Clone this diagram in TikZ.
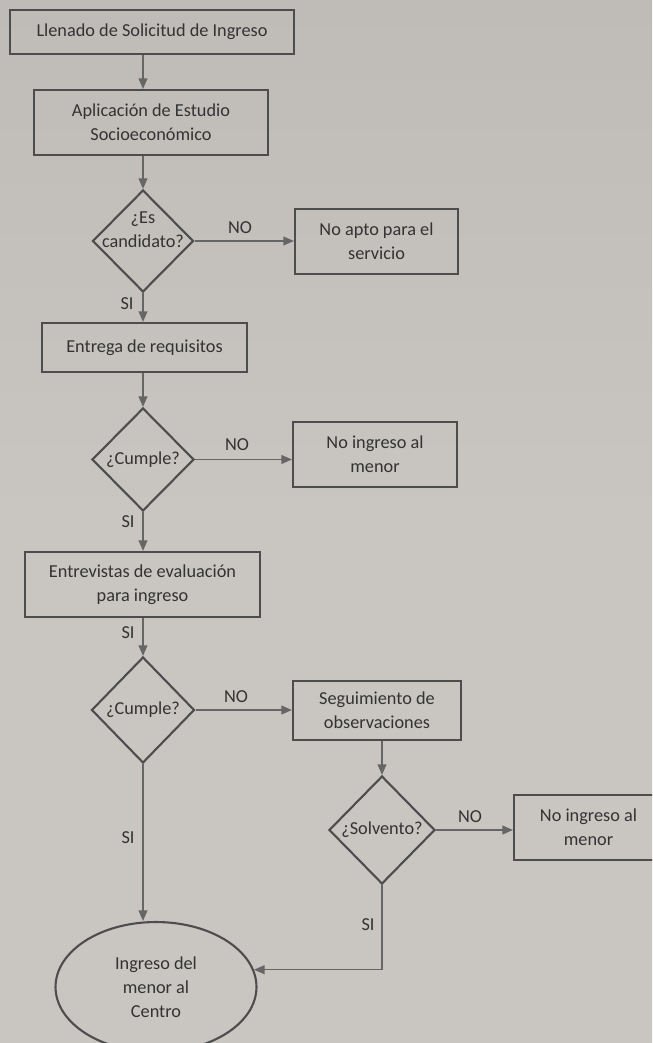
\documentclass[tikz,border=0pt]{standalone}
\usepackage{fontspec}
\setmainfont{Carlito}
\usetikzlibrary{shapes.geometric,arrows.meta,calc}
\definecolor{paper}{HTML}{C9C6C2}
\definecolor{paperdark}{HTML}{BFBCB8}
\definecolor{ink}{HTML}{333333}
\definecolor{edge}{HTML}{4D4D4D}
\definecolor{conn}{HTML}{666666}
\tikzset{
  txt/.style={font=\fontsize{10.4}{13.7}\selectfont, text=ink, align=center},
  box/.style={txt, draw=edge, line width=1.2pt, rectangle, inner sep=0pt},
  dec/.style={draw=edge, line width=1.2pt, diamond, inner sep=0pt},
  term/.style={txt, draw=edge, line width=1.2pt, ellipse, inner sep=0pt},
  conector/.style={draw=conn, line width=0.8pt, -{Triangle[length=6pt,width=5pt]}},
  lbl/.style={txt, inner sep=0pt}
}
\newcommand{\dtext}[1]{\makebox[0pt]{\begin{tabular}{@{}c@{}}#1\end{tabular}}}
\begin{document}
\begin{tikzpicture}[x=0.02cm,y=-0.02cm]
\shade[top color=paperdark, bottom color=paper, middle color=paper] (0,0) rectangle (652,1043);
\useasboundingbox (0,0) rectangle (652,1043);
\begin{scope}
\clip (0,0) rectangle (652,1043);
\node[box, minimum width=5.68cm, minimum height=0.88cm] (b1) at (152,32) {Llenado de Solicitud de Ingreso};
\node[box, minimum width=4.68cm, minimum height=1.3cm] (b2) at (151,122.5) {Aplicación de Estudio\\Socioeconómico};
\node[dec, txt, minimum width=2.02cm, minimum height=2.04cm] (d1) at (143,241) {\raisebox{0.11cm}[0pt][0pt]{\dtext{¿Es\\candidato?}}};
\node[box, minimum width=3.26cm, minimum height=1.3cm] (b3) at (376.5,241.5) {No apto para el\\servicio};
\node[box, minimum width=4.1cm, minimum height=0.98cm] (b4) at (144.5,347.5) {Entrega de requisitos};
\node[dec, txt, minimum width=2.04cm, minimum height=2.06cm] (d2) at (143,459.5) {\dtext{¿Cumple?}};
\node[box, minimum width=3.28cm, minimum height=1.3cm] (b5) at (375,454.5) {No ingreso al\\menor};
\node[box, minimum width=4.7cm, minimum height=1.3cm] (b6) at (142.5,584.5) {Entrevistas de evaluación\\para ingreso};
\node[dec, txt, minimum width=2.06cm, minimum height=2.12cm] (d3) at (143,710) {\dtext{¿Cumple?}};
\node[box, minimum width=3.36cm, minimum height=1.18cm] (b7) at (377,710.5) {Seguimiento de\\observaciones};
\node[dec, txt, minimum width=2.12cm, minimum height=2.16cm] (d4) at (382,830) {\dtext{¿Solvento?}};
\node[box, minimum width=2.98cm, minimum height=1.3cm] (b8) at (588.5,827.5) {No ingreso al\\menor};
\node[term, minimum width=4.02cm, minimum height=2.6cm] (e1) at (156,987) {Ingreso del\\menor al\\Centro};

% vertical flow
\draw[conector] (b1.south -| d1) -- (b2.north -| d1);
\draw[conector] (b2.south -| d1) -- (d1.north);
\draw[conector] (d1.south) -- (b4.north -| d1);
\draw[conector] (b4.south -| d2) -- (d2.north);
\draw[conector] (d2.south) -- (b6.north -| d2);
\draw[conector] (b6.south -| d3) -- (d3.north);
\draw[conector] (d3.south) -- (d3.south |- e1.north);
\draw[conector] (b7.south -| d4) -- (d4.north);
\draw[conector] (d4.south) |- (e1.10);
% NO branches
\draw[conector] (d1.east) -- (d1.east -| b3.west);
\draw[conector] (d2.east) -- (d2.east -| b5.west);
\draw[conector] (d3.east) -- (d3.east -| b7.west);
\draw[conector] (d4.east) -- (d4.east -| b8.west);
% labels
\node[lbl] (n1) at (240,228) {NO};
\node[lbl] (n2) at (237,445) {NO};
\node[lbl] (n3) at (236,697) {NO};
\node[lbl] (n4) at (470,817) {NO};
\node[lbl] (s1) at (127,304) {SI};
\node[lbl] (s2) at (128,522) {SI};
\node[lbl] (s3) at (128,633) {SI};
\node[lbl] (s4) at (128,838) {SI};
\node[lbl] (s5) at (368,925) {SI};
\end{scope}
\end{tikzpicture}
\end{document}
